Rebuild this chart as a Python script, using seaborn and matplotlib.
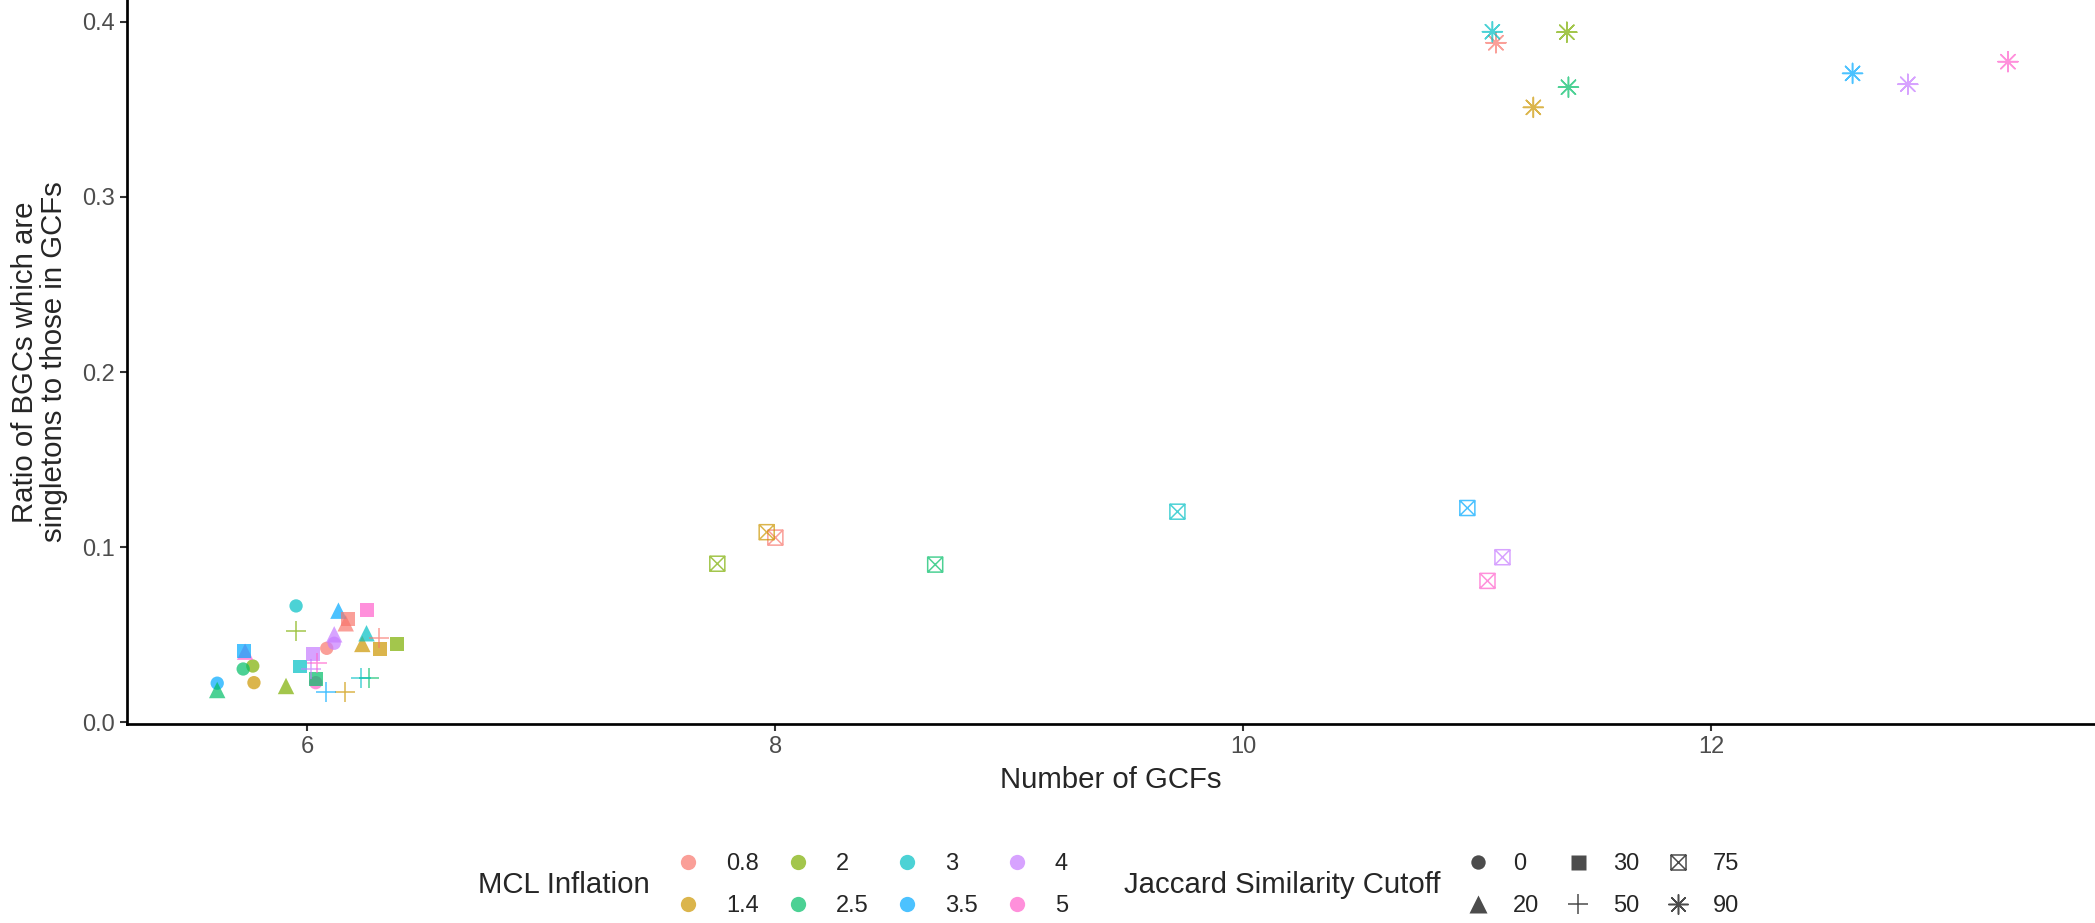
import pandas as pd
import seaborn as sns
import matplotlib.pyplot as plt
from matplotlib.path import Path
from matplotlib.markers import MarkerStyle
from matplotlib.lines import Line2D
from matplotlib.ticker import FormatStrFormatter

# MCL inflation levels and Jaccard cutoffs
inflation = ['0.8', '1.4', '2', '2.5', '3', '3.5', '4', '5']
cutoffs = ['0', '20', '30', '50', '75', '90']
colours = ['#F8766D', '#CD9600', '#7CAE00', '#00BE67',
           '#00BFC4', '#00A9FF', '#C77CFF', '#FF61CC']

# one list per cutoff, values in the order of `inflation`
gcf_0 = [6.083, 5.772, 5.767, 5.726, 5.952, 5.615, 6.115, 6.036]
ratio_0 = [0.0423, 0.0227, 0.0322, 0.0305, 0.0665, 0.0224, 0.0452, 0.0227]
gcf_20 = [6.164, 6.235, 5.909, 5.615, 6.253, 6.133, 6.115, 5.734]
ratio_20 = [0.0566, 0.0448, 0.0208, 0.0185, 0.0509, 0.0638, 0.0503, 0.0404]
gcf_30 = [6.173, 6.311, 6.382, 6.037, 5.969, 5.729, 6.023, 6.254]
ratio_30 = [0.0591, 0.0420, 0.0448, 0.0247, 0.0319, 0.0408, 0.0389, 0.0642]
gcf_50 = [6.308, 6.161, 5.952, 6.264, 6.228, 6.080, 6.016, 6.043]
ratio_50 = [0.0481, 0.0176, 0.0522, 0.0252, 0.0252, 0.0176, 0.0305, 0.0338]
gcf_75 = [8.000, 7.963, 7.752, 8.683, 9.718, 10.957, 11.107, 11.043]
ratio_75 = [0.1055, 0.1086, 0.0906, 0.0901, 0.1203, 0.1224, 0.0943, 0.0808]
gcf_90 = [11.079, 11.239, 11.382, 11.389, 11.064, 12.603, 12.839, 13.267]
ratio_90 = [0.3880, 0.3511, 0.3940, 0.3626, 0.3943, 0.3705, 0.3643, 0.3772]

gcfs = [gcf_0, gcf_20, gcf_30, gcf_50, gcf_75, gcf_90]
ratios = [ratio_0, ratio_20, ratio_30, ratio_50, ratio_75, ratio_90]

frames = []
for cut, g, r in zip(cutoffs, gcfs, ratios):
    frames.append(pd.DataFrame({'gcfs': g, 'ratio': r,
                                'inflation': inflation, 'cutoff': cut}))
df = pd.concat(frames, ignore_index=True)

# ggplot shape 7 (square with a cross)
box_x = Path([(-1, -1), (1, -1), (1, 1), (-1, 1), (-1, -1),
              (-1, -1), (1, 1), (-1, 1), (1, -1)],
             [Path.MOVETO, Path.LINETO, Path.LINETO, Path.LINETO, Path.CLOSEPOLY,
              Path.MOVETO, Path.LINETO, Path.MOVETO, Path.LINETO])
box_marker = MarkerStyle(box_x, fillstyle='none')
star_marker = (8, 2, 0)

# marker, size, filled?
shape_style = {
    '0': ('o', 92, True),
    '20': ('^', 140, True),
    '30': ('s', 100, True),
    '50': ('+', 207, False),
    '75': (box_marker, 117, False),
    '90': (star_marker, 207, False),
}

sns.set_style('ticks')
plt.rcParams['font.family'] = ['Liberation Sans', 'DejaVu Sans']

fig = plt.figure(figsize=(20.95, 9.23), dpi=100)
ax = fig.add_axes([127 / 2095, 1 - 724 / 923, 1 - 127 / 2095, 724 / 923])

for cut in cutoffs:
    m, s, filled = shape_style[cut]
    sub = df[df['cutoff'] == cut]
    kw = dict(linewidth=0) if filled else dict(linewidth=1.1)
    sns.scatterplot(data=sub, x='gcfs', y='ratio', hue='inflation',
                    hue_order=inflation, palette=colours, marker=m, s=s,
                    alpha=0.7, legend=False, ax=ax, **kw)
    if cut == '75':
        # outline only for the crossed square
        coll = ax.collections[-1]
        coll.set_edgecolors(coll.get_facecolors())
        coll.set_facecolors('none')

ax.set_xlim(5.2295, 13.639)
ax.set_ylim(-0.0009, 0.4124)
ax.set_xticks([6, 8, 10, 12])
ax.set_yticks([0.0, 0.1, 0.2, 0.3, 0.4])
ax.yaxis.set_major_formatter(FormatStrFormatter('%.1f'))
sns.despine(ax=ax)
for sp in ['left', 'bottom']:
    ax.spines[sp].set_linewidth(1.95)
    ax.spines[sp].set_color('black')
ax.tick_params(length=5, width=1.5, color='#333333', labelcolor='#4D4D4D',
               labelsize=17, pad=3.6)

ax.set_xlabel('Number of GCFs', fontsize=21.2, labelpad=6)
ax.set_ylabel('Ratio of BGCs which are\nsingletons to those in GCFs',
              fontsize=21.2, labelpad=10, linespacing=1.05)

# legends along the bottom
col_handles = [Line2D([], [], marker='o', linestyle='', markersize=11,
                      markerfacecolor=c, markeredgecolor='none', alpha=0.7)
               for c in colours]
shape_handles = []
for cut in cutoffs:
    m, s, filled = shape_style[cut]
    ms = s ** 0.5
    if filled:
        h = Line2D([], [], marker=m, linestyle='', markersize=ms * 1.08,
                   markerfacecolor='black', markeredgecolor='none', alpha=0.7)
    else:
        h = Line2D([], [], marker=m, linestyle='', markersize=ms * 1.0,
                   markerfacecolor='none', markeredgecolor='black',
                   markeredgewidth=1.1, alpha=0.7)
    shape_handles.append(h)

leg_y = 1 - 885 / 923
fig.text(478 / 2095, leg_y, 'MCL Inflation', fontsize=21.2, va='center', ha='left')
fig.text(1124 / 2095, leg_y, 'Jaccard Similarity Cutoff', fontsize=21.2,
         va='center', ha='left')

fig.legend(col_handles, inflation, ncol=4, frameon=False, fontsize=17,
           loc='center left', bbox_to_anchor=(676 / 2095, leg_y),
           borderpad=0, borderaxespad=0, handlelength=1.0,
           handletextpad=1.11, columnspacing=1.15, labelspacing=0.85)
fig.legend(shape_handles, cutoffs, ncol=3, frameon=False, fontsize=17,
           loc='center left', bbox_to_anchor=(1466 / 2095, leg_y),
           borderpad=0, borderaxespad=0, handlelength=1.0,
           handletextpad=0.98, columnspacing=1.15, labelspacing=0.85)

fig.savefig('out.png', dpi=100)
